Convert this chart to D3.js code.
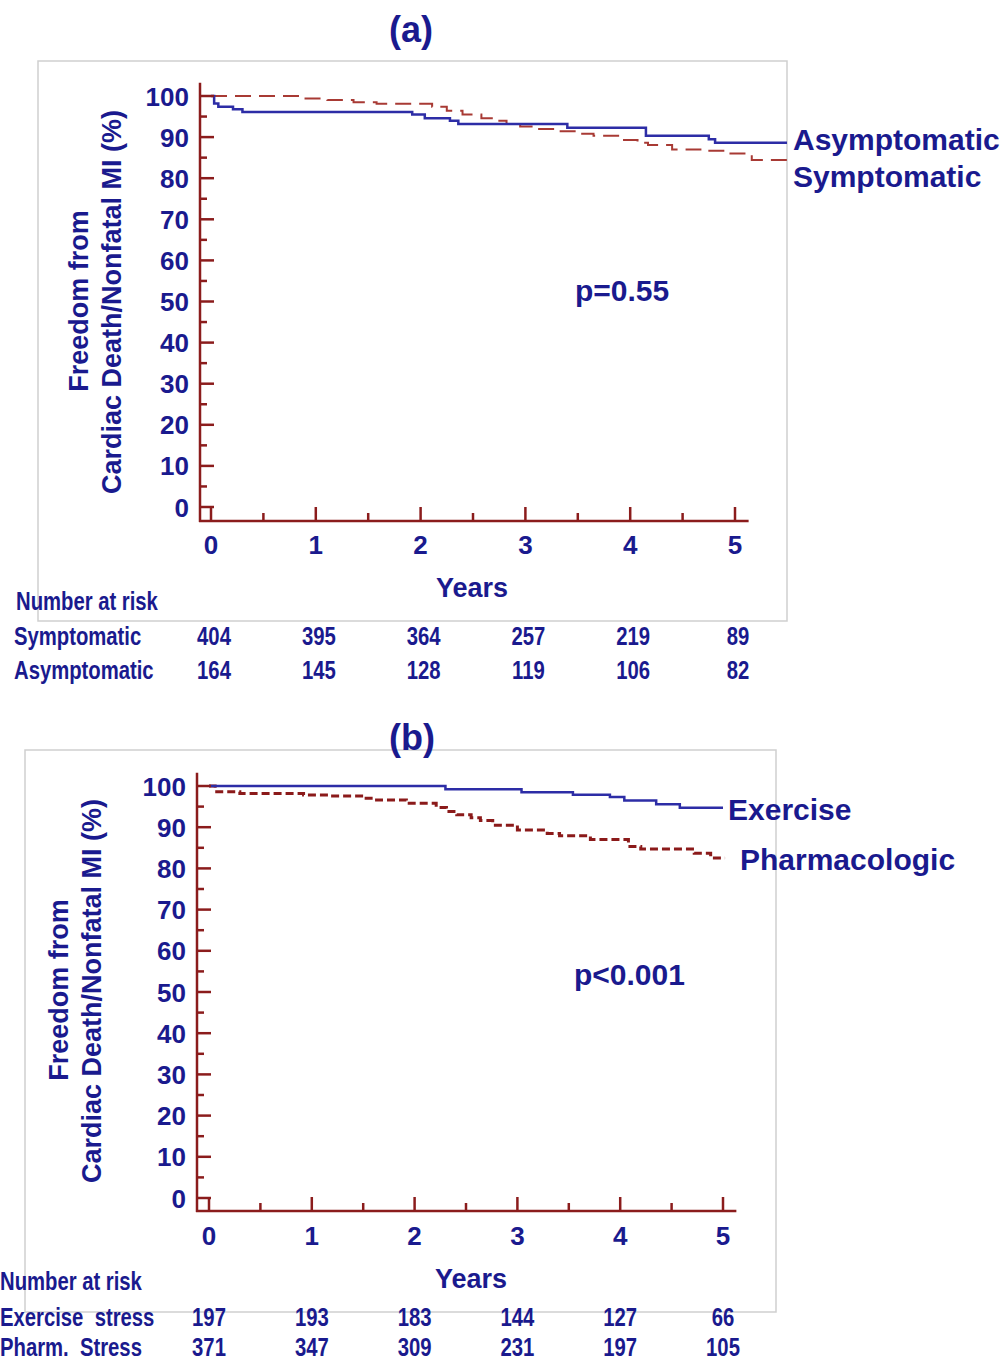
<!DOCTYPE html>
<html>
<head>
<meta charset="utf-8">
<script src="https://cdn.jsdelivr.net/npm/d3@7"></script>
<style>
  html, body { margin: 0; padding: 0; background: #fff; }
  svg { display: block; }
  text { font-family: "Liberation Sans", Arial, sans-serif; font-weight: bold; fill: #1a1a8e; }
</style>
</head>
<body>
<script>
// ---------------- DATA ----------------
const yTickValues = [0, 10, 20, 30, 40, 50, 60, 70, 80, 90, 100];
const xTickValues = [0, 1, 2, 3, 4, 5];
const atRiskYears = [0, 1, 2, 3, 4, 5];

// Panel (a)
const titleA = "(a)";
const seriesA = ["Asymptomatic", "Symptomatic"];
const asymTimes  = [0, 0.03, 0.07, 0.21, 0.30, 1.92, 2.04, 2.28, 2.36, 3.40, 4.15, 4.75, 4.81, 5.5];
const asymValues = [100, 98.2, 97.4, 96.8, 96.1, 95.5, 94.6, 94.0, 93.2, 92.3, 90.3, 89.5, 88.6, 88.6];
const symTimes  = [0, 0.88, 1.11, 1.36, 1.58, 2.11, 2.25, 2.40, 2.58, 2.69, 2.82, 2.95, 3.10, 3.30, 3.50, 3.65, 3.90, 4.07, 4.17, 4.40, 4.67, 4.92, 5.16, 5.5];
const symValues = [100, 99.4, 99.0, 98.5, 98.1, 97.4, 96.4, 95.5, 94.6, 94.0, 93.2, 92.6, 92.0, 91.4, 90.8, 90.3, 89.3, 88.6, 88.1, 87.0, 86.7, 86.0, 84.4, 84.4];
const pValueA = "p=0.55";
const riskLabelsA = ["Symptomatic", "Asymptomatic"];
const riskSymptomatic  = [404, 395, 364, 257, 219, 89];
const riskAsymptomatic = [164, 145, 128, 119, 106, 82];

// Panel (b)
const titleB = "(b)";
const seriesB = ["Exercise", "Pharmacologic"];
const exTimes  = [0, 2.30, 3.04, 3.54, 3.90, 4.04, 4.35, 4.58, 5.0];
const exValues = [100, 99.2, 98.5, 97.9, 97.3, 96.5, 95.6, 94.7, 94.7];
const phTimes  = [0, 0.06, 0.30, 0.92, 1.18, 1.50, 1.63, 1.92, 2.21, 2.31, 2.41, 2.55, 2.64, 2.76, 3.00, 3.29, 3.41, 3.71, 4.08, 4.20, 4.72, 4.88, 5.02];
const phValues = [100, 98.6, 98.2, 97.8, 97.6, 97.0, 96.6, 95.8, 94.8, 93.8, 93.0, 92.3, 91.6, 90.5, 89.3, 88.5, 87.9, 87.0, 85.3, 84.7, 83.7, 82.5, 82.5];
const pValueB = "p<0.001";
const riskLabelsB = ["Exercise  stress", "Pharm.  Stress"];
const riskExercise = [197, 193, 183, 144, 127, 66];
const riskPharm    = [371, 347, 309, 231, 197, 105];

const yAxisLabel1 = "Freedom from";
const yAxisLabel2 = "Cardiac Death/Nonfatal MI (%)";
const xAxisLabel = "Years";
const riskHeader = "Number at risk";

// ---------------- DRAW ----------------
const W = 1008, H = 1361;
const svg = d3.select("body").append("svg").attr("width", W).attr("height", H);

const AXIS = "#8b1c1c";
const BLUE = "#2d2da6";
const NARROW = 0.78;

function zip(t, v) { return t.map((d, i) => ({ t: d, v: v[i] })); }

function narrowText(g, x, y, txt, anchor) {
  g.append("text")
    .attr("transform", `translate(${x},${y}) scale(${NARROW},1)`)
    .attr("text-anchor", anchor || "start")
    .style("font-size", "26px")
    .style("white-space", "pre")
    .attr("xml:space", "preserve")
    .text(txt);
}

function panel(o) {
  const g = svg.append("g");
  g.append("rect").attr("x", o.frame[0]).attr("y", o.frame[1])
    .attr("width", o.frame[2] - o.frame[0]).attr("height", o.frame[3] - o.frame[1])
    .attr("fill", "none").attr("stroke", "#cfcfcf").attr("stroke-width", 1.5);

  const x = d3.scaleLinear().domain([0, 5]).range(o.xr);
  const y = d3.scaleLinear().domain([0, 100]).range(o.yr);

  g.append("text").attr("x", o.title[0]).attr("y", o.title[1]).attr("text-anchor", "middle")
    .style("font-size", "36px").text(o.titleText);

  const clipId = "clip" + o.id;
  g.append("clipPath").attr("id", clipId).append("rect")
    .attr("x", o.frame[0]).attr("y", o.frame[1]).attr("width", o.frame[2] - o.frame[0]).attr("height", o.frame[3] - o.frame[1]);
  const line = d3.line().x(d => x(d.t)).y(d => y(d.v)).curve(d3.curveStepAfter);
  const cg = g.append("g").attr("clip-path", `url(#${clipId})`);
  o.curves.forEach(c => {
    cg.append("path").attr("d", line(c.data)).attr("fill", "none")
      .attr("stroke", c.color).attr("stroke-width", c.width)
      .attr("stroke-dasharray", c.dash || null);
  });

  const yTop = y(103.2), xAxisY = o.xAxisY, yAxisX = o.yAxisX;
  const ag = g.append("g").attr("stroke", AXIS).attr("stroke-width", 2.5).attr("fill", "none");
  ag.append("line").attr("x1", yAxisX).attr("x2", yAxisX).attr("y1", yTop).attr("y2", xAxisY + 1);
  ag.append("line").attr("x1", yAxisX - 1).attr("x2", x(5.13)).attr("y1", xAxisY).attr("y2", xAxisY);
  d3.range(0, 101, 5).forEach(v => {
    const len = v % 10 === 0 ? 14 : 7;
    ag.append("line").attr("x1", yAxisX).attr("x2", yAxisX + len).attr("y1", y(v)).attr("y2", y(v));
  });
  d3.range(0, 5.01, 0.5).forEach(t => {
    const len = Number.isInteger(t) ? 14 : 8;
    ag.append("line").attr("x1", x(t)).attr("x2", x(t)).attr("y1", xAxisY).attr("y2", xAxisY - len);
  });

  g.selectAll(null).data(yTickValues).enter().append("text")
    .attr("x", yAxisX - 11).attr("y", d => y(d) + 9.5).attr("text-anchor", "end")
    .style("font-size", "26px").text(d => d);
  g.selectAll(null).data(xTickValues).enter().append("text")
    .attr("x", d => x(d)).attr("y", o.xTickY).attr("text-anchor", "middle")
    .style("font-size", "26px").text(d => d);

  g.append("text").attr("transform", `translate(${o.ylab1[0]},${o.ylab1[1]}) rotate(-90)`)
    .attr("text-anchor", "middle").style("font-size", "27px").text(yAxisLabel1);
  g.append("text").attr("transform", `translate(${o.ylab2[0]},${o.ylab2[1]}) rotate(-90)`)
    .attr("text-anchor", "middle").style("font-size", "27px").text(yAxisLabel2);
  g.append("text").attr("x", o.xlab[0]).attr("y", o.xlab[1]).attr("text-anchor", "middle")
    .style("font-size", "27px").text(xAxisLabel);

  g.append("text").attr("x", o.p[0]).attr("y", o.p[1]).style("font-size", "30px").text(o.pText);

  o.legend.forEach(l => {
    g.append("text").attr("x", l.x).attr("y", l.y).style("font-size", "30px").text(l.text);
  });

  narrowText(g, o.riskHeader[0], o.riskHeader[1], riskHeader);
  o.risk.forEach(r => {
    narrowText(g, o.riskLabelX, r.y, r.label);
    r.values.forEach((d, i) => narrowText(g, x(atRiskYears[i]) + o.riskDx, r.y, d, "middle"));
  });
}

panel({
  id: "a",
  frame: [38, 61, 787, 621],
  xr: [211, 735], yr: [507, 96],
  yAxisX: 200, xAxisY: 521, xTickY: 554,
  title: [411, 42], titleText: titleA,
  curves: [
    { data: zip(symTimes, symValues), color: "#a83a34", width: 2, dash: "16,8" },
    { data: zip(asymTimes, asymValues), color: BLUE, width: 2.5 }
  ],
  ylab1: [88, 301], ylab2: [121, 302], xlab: [472, 597],
  p: [575, 301], pText: pValueA,
  legend: [{ x: 793, y: 150, text: seriesA[0] }, { x: 793, y: 187, text: seriesA[1] }],
  riskHeader: [16, 610], riskLabelX: 14, riskDx: 3,
  risk: [{ y: 645, label: riskLabelsA[0], values: riskSymptomatic },
         { y: 679, label: riskLabelsA[1], values: riskAsymptomatic }]
});

panel({
  id: "b",
  frame: [25, 750, 776, 1312],
  xr: [209, 723], yr: [1198, 786],
  yAxisX: 197, xAxisY: 1211, xTickY: 1245,
  title: [412, 750], titleText: titleB,
  curves: [
    { data: zip(phTimes, phValues), color: "#8b1a1a", width: 3, dash: "8,4" },
    { data: zip(exTimes, exValues), color: BLUE, width: 2.5 }
  ],
  ylab1: [68, 990], ylab2: [101, 991], xlab: [471, 1288],
  p: [574, 985], pText: pValueB,
  legend: [{ x: 728, y: 820, text: seriesB[0] }, { x: 740, y: 870, text: seriesB[1] }],
  riskHeader: [0, 1290], riskLabelX: 0, riskDx: 0,
  risk: [{ y: 1326, label: riskLabelsB[0], values: riskExercise },
         { y: 1356, label: riskLabelsB[1], values: riskPharm }]
});
</script>
</body>
</html>
